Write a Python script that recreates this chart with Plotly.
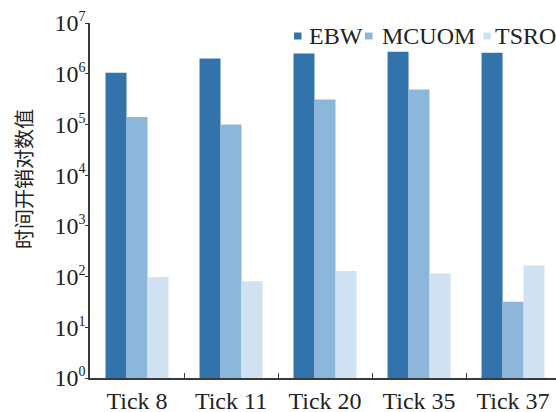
import plotly.graph_objects as go

categories = ["Tick 8", "Tick 11", "Tick 20", "Tick 35", "Tick 37"]
ebw = [1.05e6, 2.0e6, 2.5e6, 2.7e6, 2.6e6]
mcuom = [1.4e5, 1.0e5, 3.1e5, 4.9e5, 32]
tsro = [98, 81, 129, 115, 166]
series_names = ["EBW", "MCUOM", "TSRO"]
colors = ["#3373AB", "#8DB6DB", "#D0E1F2"]
y_exponents = list(range(8))
y_title = "时间开销对数值"

W, H = 556, 412
ML, MR, MT, MB = 90, 0, 23, 34
PW, PH = W - ML - MR, H - MT - MB

def px_x(p):
    return (p - ML) / PW

def px_y(p):
    return (H - MB - p) / PH

fig = go.Figure()
for name, vals, col in zip(series_names, [ebw, mcuom, tsro], colors):
    fig.add_trace(go.Bar(x=categories, y=vals, name=name, marker_color=col,
                         marker_line_width=0, showlegend=False))

serif = "Liberation Serif, Times New Roman, serif"
axis_col = "#3a3a3a"

fig.update_layout(
    width=W, height=H,
    margin=dict(l=ML, r=MR, t=MT, b=MB, autoexpand=False),
    plot_bgcolor="white", paper_bgcolor="white",
    barmode="group", bargap=0.33, bargroupgap=0,
    font=dict(family=serif, size=24, color="#222222"),
    xaxis=dict(
        type="category", range=[-0.5, 4.457], automargin=False,
        showline=True, linecolor=axis_col, linewidth=1.5,
        ticks="inside", tickson="boundaries", ticklen=5, tickcolor=axis_col,
        tickfont=dict(family=serif, size=24, color="#222222"),
        showgrid=False, zeroline=False,
    ),
    yaxis=dict(
        type="log", range=[0, 7], automargin=False,
        tickvals=[10 ** e for e in y_exponents],
        ticktext=[f"10<sup><span style='font-size:14px'>{e}</span></sup>" for e in y_exponents],
        ticklabelstandoff=-5,
        showline=True, linecolor=axis_col, linewidth=1.5,
        ticks="outside", ticklen=3, tickcolor=axis_col,
        tickfont=dict(family=serif, size=24, color="#222222"),
        showgrid=False, zeroline=False,
    ),
)

# y-axis title
fig.add_annotation(text=y_title, xref="paper", yref="paper",
                   x=px_x(23), y=px_y(179), textangle=-90, showarrow=False,
                   font=dict(family="Noto Sans CJK SC", size=20, color="#222222"),
                   xanchor="center", yanchor="middle")

# custom legend
marker_left = [294, 365, 483.5]
text_left = [306.5, 379.5, 492.5]
legend_y = 36
for name, col, mx, tx in zip(series_names, colors, marker_left, text_left):
    fig.add_shape(type="rect", xref="paper", yref="paper",
                  x0=px_x(mx), x1=px_x(mx + 7.5),
                  y0=px_y(legend_y + 3.5), y1=px_y(legend_y - 3.5),
                  fillcolor=col, line_width=0)
    fig.add_annotation(text=name, xref="paper", yref="paper",
                       x=px_x(tx), y=px_y(legend_y), showarrow=False,
                       xanchor="left", yanchor="middle",
                       font=dict(family=serif, size=24, color="#222222"))

fig.write_html("out.html", config={"displayModeBar": False},
               post_script="document.body.style.margin='0';document.body.style.overflow='hidden';")
